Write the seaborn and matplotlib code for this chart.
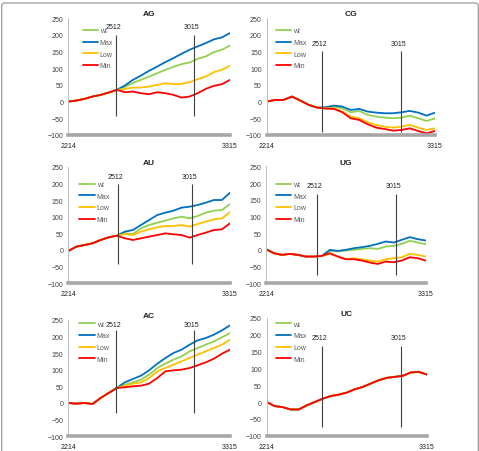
import numpy as np
import pandas as pd
import matplotlib
matplotlib.use("Agg")
import matplotlib.pyplot as plt
import seaborn as sns
from matplotlib.lines import Line2D
from matplotlib.patches import FancyBboxPatch

sns.set_theme(style="white")
plt.rcParams["font.family"] = ["Liberation Sans", "DejaVu Sans"]

# ---------------- data ----------------
POS = [2214, 2269, 2324, 2379, 2434, 2489, 2544, 2599, 2654, 2709, 2764,
       2820, 2875, 2930, 2985, 3040, 3095, 3150, 3205, 3260, 3315]
SERIES = ["wt", "Max", "Low", "Min"]
COLORS = {"wt": "#92D050", "Max": "#0070C0", "Low": "#FFC000", "Min": "#FF0000"}
X_TICKS = [2214, 3315]
Y_TICKS = [-100, -50, 0, 50, 100, 150, 200, 250]
MARK_LABELS = ["2512", "3015"]

AG_pre = [0, 3, 8, 15, 20, 27, 35]
AG_wt = AG_pre + [44, 56, 65, 75, 85, 95, 104, 112, 117, 128, 135, 148, 155, 168]
AG_max = AG_pre + [48, 65, 78, 92, 105, 118, 130, 143, 155, 165, 175, 186, 192, 205]
AG_low = AG_pre + [38, 42, 42, 45, 50, 55, 52, 53, 58, 67, 75, 88, 95, 107]
AG_min = AG_pre + [28, 30, 25, 22, 28, 25, 20, 12, 15, 25, 38, 47, 52, 65]

CG_pre = [0, 5, 5, 15, 3, -10, -18]
CG_wt = CG_pre + [-18, -15, -20, -32, -28, -40, -45, -48, -50, -48, -42, -50, -58, -50]
CG_max = CG_pre + [-17, -12, -15, -25, -22, -30, -33, -35, -35, -32, -28, -33, -42, -33]
CG_low = CG_pre + [-20, -20, -30, -45, -50, -62, -70, -75, -78, -75, -70, -78, -85, -80]
CG_min = CG_pre + [-21, -22, -32, -50, -55, -68, -78, -82, -87, -85, -80, -88, -95, -88]

AU_pre = [-3, 10, 15, 20, 30, 38, 43]
AU_wt = AU_pre + [50, 48, 65, 75, 82, 88, 95, 100, 95, 102, 112, 118, 120, 138]
AU_max = AU_pre + [55, 60, 75, 90, 105, 112, 118, 127, 130, 135, 142, 150, 150, 172]
AU_low = AU_pre + [48, 45, 55, 62, 68, 72, 72, 75, 70, 78, 85, 92, 95, 113]
AU_min = AU_pre + [35, 30, 35, 40, 45, 50, 47, 45, 37, 45, 52, 60, 62, 80]

UG_pre = [2, -10, -15, -12, -15, -20, -20, -18]
UG_wt = UG_pre + [-3, -5, -2, 0, 3, 5, 3, 10, 12, 18, 27, 22, 17]
UG_max = UG_pre + [0, -3, 0, 5, 8, 12, 18, 25, 22, 30, 38, 32, 28]
UG_low = UG_pre + [-12, -20, -28, -25, -28, -32, -35, -28, -25, -22, -12, -15, -20]
UG_min = UG_pre + [-10, -20, -28, -28, -32, -38, -42, -35, -37, -32, -22, -25, -32]

AC_pre = [0, -2, 0, -3, 15, 30, 45]
AC_wt = AC_pre + [55, 62, 70, 85, 105, 118, 130, 140, 155, 165, 175, 185, 197, 210]
AC_max = AC_pre + [62, 72, 82, 98, 118, 135, 150, 160, 175, 188, 195, 205, 218, 233]
AC_low = AC_pre + [52, 58, 62, 75, 95, 105, 115, 125, 135, 145, 155, 165, 175, 190]
AC_min = AC_pre + [47, 50, 52, 58, 75, 95, 98, 100, 105, 113, 122, 133, 148, 160]

UC_all = [0, -12, -15, -22, -22, -10, 0, 10, 18, 22, 28, 38, 45, 55, 65, 72, 75, 78, 88, 90, 82]
UC_wt, UC_max, UC_low, UC_min = UC_all, UC_all, UC_all, UC_all

# marker positions (as drawn) and extents, in data units
PANELS = [
    dict(title="AG", data=[AG_wt, AG_max, AG_low, AG_min], box=(68.3, 230, 19, 136),
         marks=[2539, 3072], mrange=(-43, 199), mlab=225, leg=(82.5, 32.3)),
    dict(title="CG", data=[CG_wt, CG_max, CG_low, CG_min], box=(266.7, 435, 19, 136),
         marks=[2574, 3090], mrange=(-91, 151), mlab=175, leg=(276, 32.3)),
    dict(title="AU", data=[AU_wt, AU_max, AU_low, AU_min], box=(68.3, 230, 167.7, 284.3),
         marks=[2554, 3058], mrange=(-42, 198), mlab=221, leg=(79.3, 186)),
    dict(title="UG", data=[UG_wt, UG_max, UG_low, UG_min], box=(266, 425.7, 167.3, 284.3),
         marks=[2568, 3112], mrange=(-75, 167), mlab=194, leg=(276, 186)),
    dict(title="AC", data=[AC_wt, AC_max, AC_low, AC_min], box=(68.3, 230, 320.7, 437.3),
         marks=[2537, 3072], mrange=(-31, 220), mlab=237, leg=(79.3, 325.7)),
    dict(title="UC", data=[UC_wt, UC_max, UC_low, UC_min], box=(266.7, 426.7, 319, 436.7),
         marks=[2593, 3136], mrange=(-75, 168), mlab=193, leg=(276, 325.7)),
]

W, H = 479, 452
fig = plt.figure(figsize=(W / 100, H / 100), dpi=100)
fig.patch.set_facecolor("white")

# outer frame
frame = FancyBboxPatch((1.7 / W, -0.05), (478.3 - 1.7) / W, (H - 4 + 0.05 * H) / H - 0.0,
                       boxstyle="round,pad=0,rounding_size=0.006",
                       transform=fig.transFigure, fill=False, edgecolor="#9A9A9A", lw=0.9)
fig.patches.append(frame)

FS = 5.0
for p in PANELS:
    l, r, t, b = p["box"]
    ax = fig.add_axes([l / W, 1 - b / H, (r - l) / W, (b - t) / H])
    ax.set_facecolor("none")
    rows = []
    for name, vals in zip(SERIES, p["data"]):
        for x, v in zip(POS, vals):
            rows.append((x, v, name))
    df = pd.DataFrame(rows, columns=["pos", "value", "series"])
    sns.lineplot(data=df, x="pos", y="value", hue="series", hue_order=SERIES,
                 palette=COLORS, ax=ax, legend=False, linewidth=1.3, estimator=None)
    ax.set_xlabel("")
    ax.set_ylabel("")
    ax.set_xlim(POS[0], POS[-1])
    ax.set_ylim(Y_TICKS[0], Y_TICKS[-1])
    ax.set_yticks(Y_TICKS)
    ax.set_xticks(X_TICKS)
    ax.set_xticklabels([str(v) for v in X_TICKS])
    ax.tick_params(axis="y", length=0, pad=3.5, labelsize=FS, labelcolor="#404040")
    ax.tick_params(axis="x", length=0, pad=5, labelsize=FS, labelcolor="#202020")
    for s in ["top", "right"]:
        ax.spines[s].set_visible(False)
    ax.spines["left"].set_color("#C0C0C0")
    ax.spines["left"].set_linewidth(0.7)
    ax.spines["bottom"].set_color("#A6A6A6")
    ax.spines["bottom"].set_linewidth(2.6)
    ax.set_title(p["title"], fontsize=6, fontweight="bold", pad=1.8, color="#202020")

    ax.vlines(p["marks"], p["mrange"][0], p["mrange"][1], color="#404040", lw=0.8)
    for mx, lab in zip(p["marks"], MARK_LABELS):
        ax.annotate(lab, (mx, p["mlab"]), xytext=(-1.8, 0), textcoords="offset points",
                    ha="center", va="center", fontsize=FS, color="#202020")

    handles = [Line2D([], [], color=COLORS[s], lw=1.3) for s in SERIES]
    lx, ly = p["leg"]
    ax.legend(handles, SERIES, loc="upper left", bbox_to_anchor=(lx / W, 1 - (ly - 4) / H),
              bbox_transform=fig.transFigure, frameon=False, fontsize=FS,
              handlelength=2.2, handletextpad=0.3, labelspacing=0.68,
              borderpad=0, borderaxespad=0, labelcolor="#595959")

fig.savefig("out.png", dpi=100, facecolor="white")
